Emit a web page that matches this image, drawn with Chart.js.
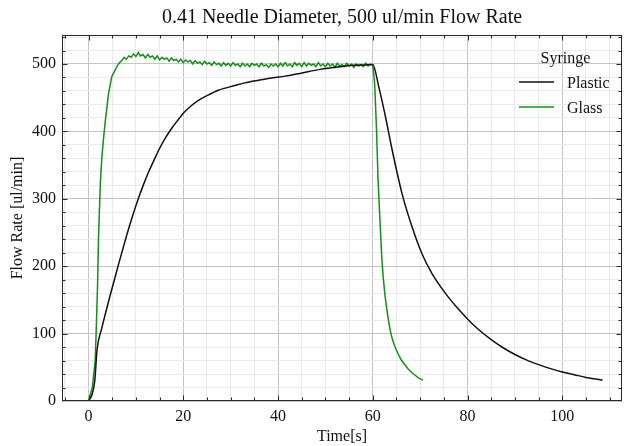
<!DOCTYPE html>
<html><head><meta charset="utf-8">
<script src="https://cdn.jsdelivr.net/npm/chart.js@4.4.1/dist/chart.umd.min.js"></script>
<style>html,body{margin:0;padding:0;background:#fff}#wrap{width:624px;height:446px}</style>
</head><body><div id="wrap"><canvas id="c" width="624" height="446"></canvas></div>
<script>
// ---- data ----
const chartTitle = '0.41 Needle Diameter, 500 ul/min Flow Rate';
const xAxisTitle = 'Time[s]';
const yAxisTitle = 'Flow Rate [ul/min]';
const legendTitle = 'Syringe';
const seriesNames = ['Plastic', 'Glass'];
const xTickLabels = [0, 20, 40, 60, 80, 100];
const yTickLabels = [0, 100, 200, 300, 400, 500];

const plasticTime = [0, 0.7, 1.3, 1.8, 2.8, 3.5, 4.5, 5.5, 6.3, 7.3, 8.4, 9.5, 10.5, 11.6, 12.7, 13.8, 14.8, 16.2, 17.6, 19, 20, 21.5, 23.2, 25, 27.4, 30.9, 33, 35.9, 38.3, 41.5, 44.6, 48.8, 53.1, 56, 59.4, 60,
  61.3, 62.7, 64.1, 66.2, 68.3, 70.4, 72.5, 75.3, 78.1, 80.5, 82.5, 85, 87.5, 90, 92.4, 95, 97.5, 100, 102.5, 105, 107, 108.5];
const plasticRate = [0, 9, 29, 76, 108, 128, 155, 181, 202, 227, 254, 279, 300, 321, 340, 357, 372, 390, 405, 418, 427, 437, 446, 453, 461, 468, 472, 476, 479, 482, 486, 492, 496, 498, 499, 499,
  465, 421, 372, 307, 258, 218, 189, 160, 136, 118, 105, 91, 79, 69, 61, 54, 48, 43, 39, 35, 32.5, 31];

const glassTime = [0, 0.8, 1.4, 1.6, 1.9, 2.1, 2.5, 2.8, 3.2, 3.5, 4.2, 4.9, 5.6, 6.3,
  7.0, 7.5, 8.0, 8.5, 9.0, 9.5, 10.0, 10.5, 11.0, 11.5,
  12.0, 12.5, 13.0, 13.5, 14.0, 14.5, 15.0, 15.5, 16.0, 16.5,
  17.0, 17.5, 18.0, 18.5, 19.0, 19.5, 20.0, 20.5, 21.0, 21.5,
  22.0, 22.5, 23.0, 23.5, 24.0, 24.5, 25.0, 25.5, 26.0, 26.5,
  27.0, 27.5, 28.0, 28.5, 29.0, 29.5, 30.0, 30.5, 31.0, 31.5,
  32.0, 32.5, 33.0, 33.5, 34.0, 34.5, 35.0, 35.5, 36.0, 36.5,
  37.0, 37.5, 38.0, 38.5, 39.0, 39.5, 40.0, 40.5, 41.0, 41.5,
  42.0, 42.5, 43.0, 43.5, 44.0, 44.5, 45.0, 45.5, 46.0, 46.5,
  47.0, 47.5, 48.0, 48.5, 49.0, 49.5, 50.0, 50.5, 51.0, 51.5,
  52.0, 52.5, 53.0, 53.5, 54.0, 54.5, 55.0, 55.5, 56.0, 56.5,
  57.0, 57.5, 58.0, 58.5, 59.0, 59.5, 60.0,
  60.4, 60.8, 61.1, 61.5, 61.9, 62.2, 62.6, 63.0, 63.3, 63.7, 64.2, 64.7, 65.4, 66.1, 67.5, 68.6, 69.7, 70.6];
const glassRate = [0, 20, 60, 100, 170, 240, 325, 360, 392, 413, 455, 481, 491, 500,
  505, 510, 507, 512, 510, 515, 511, 517, 512, 514,
  509, 514, 510, 512, 507, 512, 506, 510, 507, 509,
  504, 509, 505, 507, 503, 507, 502, 506, 503, 505,
  500, 505, 501, 503, 499, 504, 500, 502, 498, 503,
  499, 501, 497, 502, 498, 501, 497, 502, 498, 500,
  496, 501, 497, 500, 496, 501, 498, 500, 496, 501,
  497, 499, 495, 500, 497, 500, 496, 501, 497, 502,
  497, 500, 496, 502, 498, 501, 496, 502, 497, 501,
  498, 500, 496, 502, 497, 500, 496, 501, 497, 500,
  495, 501, 497, 499, 496, 501, 497, 500, 495, 500,
  497, 499, 496, 501, 497, 500, 499,
  470, 400, 330, 270, 212, 183, 155, 134, 120, 104, 90, 80, 69, 60, 47, 40, 34, 31];

// ---- styling ----
const FONT = '"Liberation Serif", "Times New Roman", serif';
const MAJOR_GRID = '#c4c4c4';
const MINOR_GRID = '#ebebeb';
const AXIS = '#2a2a2a';
const COLORS = ['#111111', '#13901a'];

const toPoints = (xs, ys) => xs.map((x, i) => ({x: x, y: ys[i]}));

const framePlugin = {
  id: 'frame',
  afterDraw(chart) {
    const {ctx, chartArea: a, scales: {x, y}} = chart;
    const L = Math.round(a.left) + 0.5, R = Math.round(a.right) - 0.5;
    const T = Math.round(a.top) + 0.5, B = Math.round(a.bottom) - 0.5;
    ctx.save();
    ctx.strokeStyle = AXIS;
    ctx.lineWidth = 1;
    ctx.strokeRect(L, T, R - L, B - T);
    ctx.beginPath();
    x.ticks.forEach(t => {
      const p = Math.round(x.getPixelForValue(t.value)) + 0.5;
      if (p < L || p > R) return;
      const len = xTickLabels.includes(t.value) ? 5 : 3;
      ctx.moveTo(p, B); ctx.lineTo(p, B - len);
      ctx.moveTo(p, T); ctx.lineTo(p, T + len);
    });
    y.ticks.forEach(t => {
      const p = Math.round(y.getPixelForValue(t.value)) + 0.5;
      if (p < T || p > B) return;
      const len = yTickLabels.includes(t.value) ? 5 : 3;
      ctx.moveTo(L, p); ctx.lineTo(L + len, p);
      ctx.moveTo(R, p); ctx.lineTo(R - len, p);
    });
    ctx.stroke();

    // legend
    const r = a.right;
    ctx.fillStyle = '#111';
    ctx.font = '16px ' + FONT;
    ctx.textBaseline = 'alphabetic';
    ctx.textAlign = 'center';
    ctx.fillText(legendTitle, r - 56.5, a.top + 27.5);
    ctx.textAlign = 'left';
    chart.data.datasets.forEach((ds, i) => {
      const yy = a.top + 47 + i * 25;
      ctx.strokeStyle = ds.borderColor;
      ctx.lineWidth = 1.6;
      ctx.beginPath();
      ctx.moveTo(r - 103, yy); ctx.lineTo(r - 68, yy);
      ctx.stroke();
      ctx.fillText(ds.label, r - 55, yy + 6);
    });
    ctx.restore();
  }
};

new Chart(document.getElementById('c'), {
  type: 'line',
  data: {
    datasets: [
      {label: seriesNames[0], data: toPoints(plasticTime, plasticRate), borderColor: COLORS[0], borderWidth: 1.5,
       pointRadius: 0, cubicInterpolationMode: 'monotone', fill: false},
      {label: seriesNames[1], data: toPoints(glassTime, glassRate), borderColor: COLORS[1], borderWidth: 1.5,
       pointRadius: 0, tension: 0, fill: false}
    ]
  },
  options: {
    responsive: false,
    animation: false,
    devicePixelRatio: 1,
    layout: {padding: {left: 0, right: 2, top: 0, bottom: 0}},
    plugins: {
      legend: {display: false},
      tooltip: {enabled: false},
      title: {display: true, text: chartTitle, fullSize: false, color: '#111',
              font: {family: FONT, size: 20, weight: 'normal'}, padding: {top: 6, bottom: 5}}
    },
    scales: {
      x: {
        type: 'linear', min: -5.6, max: 112.6,
        ticks: {stepSize: 5, autoSkip: false, includeBounds: false, maxRotation: 0, padding: 6, color: '#111',
                font: {family: FONT, size: 16},
                callback: v => xTickLabels.includes(v) ? String(v) : ''},
        grid: {drawTicks: false, lineWidth: 1,
               color: c => (c.tick && xTickLabels.includes(c.tick.value)) ? MAJOR_GRID : MINOR_GRID},
        border: {display: false},
        title: {display: true, text: xAxisTitle, color: '#111', font: {family: FONT, size: 16}, padding: {top: 0, bottom: 0}},
        afterFit: s => { s.height = 45; }
      },
      y: {
        type: 'linear', min: 0, max: 543,
        ticks: {stepSize: 20, autoSkip: false, includeBounds: false, padding: 6, color: '#111',
                font: {family: FONT, size: 16},
                callback: v => yTickLabels.includes(v) ? String(v) : ''},
        grid: {drawTicks: false, lineWidth: 1,
               color: c => (c.tick && yTickLabels.includes(c.tick.value)) ? MAJOR_GRID : MINOR_GRID},
        border: {display: false},
        title: {display: true, text: yAxisTitle, color: '#111', font: {family: FONT, size: 16}, padding: {top: 8, bottom: 0}},
        afterFit: s => { s.width = 62; }
      }
    }
  },
  plugins: [framePlugin]
});
</script>
</body></html>
